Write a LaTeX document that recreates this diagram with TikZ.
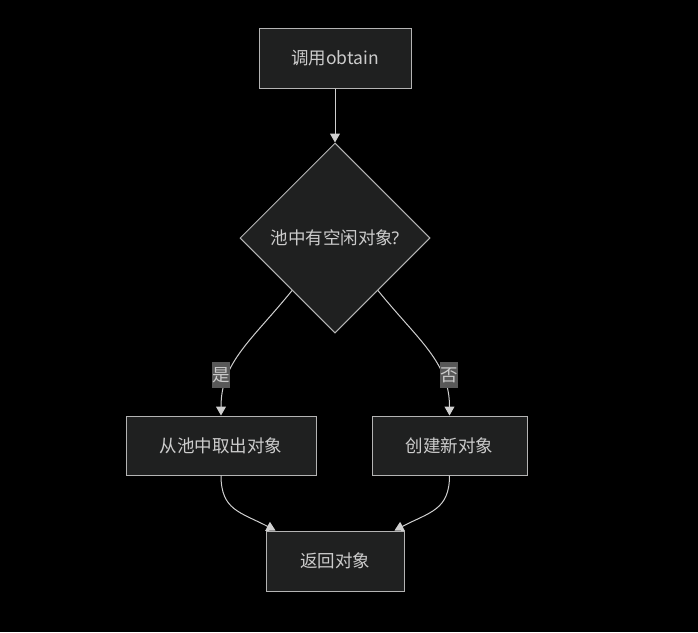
\documentclass[tikz,border=0pt]{standalone}
\usepackage{fontspec}
\setmainfont{Noto Sans CJK SC}
\newfontfamily\latinfont{Noto Sans}
\usetikzlibrary{shapes.geometric,arrows.meta,calc}
\definecolor{bg}{HTML}{000000}
\definecolor{nodefill}{HTML}{1F2020}
\definecolor{nodeline}{HTML}{B4B4B4}
\definecolor{txt}{HTML}{CCCCCC}
\definecolor{edge}{HTML}{D0D0D0}
\definecolor{lblbg}{HTML}{585858}
\tikzset{
  boxnode/.style={draw=nodeline, fill=nodefill, line width=1pt, text=txt, inner sep=0pt, anchor=center,
    font=\fontsize{17.5}{20}\selectfont},
  decision/.style={diamond, draw=nodeline, fill=nodefill, line width=1pt, text=txt, inner sep=0pt,
    minimum width=190pt, minimum height=190pt, aspect=1, font=\fontsize{17.5}{20}\selectfont},
  conn/.style={draw=edge, line width=1pt, -{Triangle[length=9pt,width=10pt]}},
  lbl/.style={fill=lblbg, text=txt, inner sep=0.5pt, minimum width=18pt, minimum height=26pt,
    font=\fontsize{17.5}{20}\selectfont}
}
\begin{document}
\begin{tikzpicture}[x=1pt,y=-1pt]
\useasboundingbox[fill=bg] (0,0) rectangle (698,632);
\node[boxnode, minimum width=152pt, minimum height=60pt] (start) at (335,58) {调用obtain};
\node[decision] (d) at (335,238) {池中有空闲对象\kern-1.5pt{\latinfont ?}};
\node[boxnode, minimum width=190pt, minimum height=59pt] (take) at (221,445.5) {从池中取出对象};
\node[boxnode, minimum width=155pt, minimum height=59pt] (create) at (449.5,445.5) {创建新对象};
\node[boxnode, minimum width=138pt, minimum height=60pt] (ret) at (335,561) {返回对象};
\coordinate (dL) at ($(d.west)!0.55!(d.south)$);
\coordinate (dR) at ($(d.east)!0.55!(d.south)$);
\coordinate (retL) at ([xshift=10pt]ret.north west);
\coordinate (retR) at ([xshift=-10pt]ret.north east);
\draw[conn] (start) -- (d);
\draw[conn] (dL) .. controls (252,340) and (221,362) .. (take.north);
\draw[conn] (dR) .. controls (418,340) and (449.5,362) .. (create.north);
\draw[conn] (take.south) .. controls (221,510) and (240,512) .. (retL);
\draw[conn] (create.south) .. controls (449.5,510) and (430,512) .. (retR);
\node[lbl] (yes) at (221,375) {是};
\node[lbl] (no) at (449,375) {否};
\end{tikzpicture}
\end{document}
